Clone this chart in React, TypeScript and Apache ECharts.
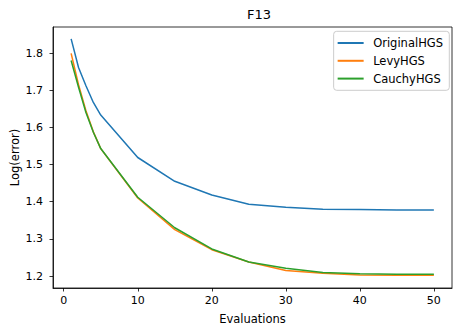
import React, { useEffect, useRef } from "react";
import * as echarts from "echarts";

const evaluations = [1, 2, 3, 4, 5, 10, 15, 20, 25, 30, 35, 40, 45, 50];
const originalHGS = [1.838, 1.761, 1.712, 1.667, 1.633, 1.519, 1.455, 1.418, 1.393, 1.385, 1.38, 1.379, 1.378, 1.378];
const levyHGS = [1.799, 1.715, 1.645, 1.588, 1.543, 1.41, 1.325, 1.271, 1.238, 1.215, 1.208, 1.203, 1.202, 1.202];
const cauchyHGS = [1.78, 1.708, 1.64, 1.587, 1.543, 1.412, 1.33, 1.273, 1.238, 1.221, 1.21, 1.206, 1.205, 1.205];
const xTicks = [0, 10, 20, 30, 40, 50];
const yTicks = [1.2, 1.3, 1.4, 1.5, 1.6, 1.7, 1.8];

const FONT = "DejaVu Sans";

export default function App() {
  const ref = useRef<HTMLDivElement>(null);
  useEffect(() => {
    if (!ref.current) return;
    const chart = echarts.init(ref.current, null, { renderer: "svg" });
    const mk = (name: string, vals: number[], color: string) => ({
      name,
      type: "line",
      data: evaluations.map((x, i) => [x, vals[i]]),
      showSymbol: false,
      symbol: "none",
      lineStyle: { color, width: 1.5 },
      itemStyle: { color },
    });
    chart.setOption({
      animation: false,
      backgroundColor: "#fff",
      title: {
        text: "F13",
        left: 254,
        top: 3,
        textAlign: "center",
        textStyle: { fontFamily: FONT, fontSize: 13, fontWeight: "normal", color: "#000" },
      },
      grid: {
        left: 53,
        right: 2,
        top: 27,
        bottom: 41,
        containLabel: false,
        outerBoundsMode: "none",
        show: true,
        borderColor: "#000",
        borderWidth: 0.8,
        backgroundColor: "transparent",
      },
      legend: {
        orient: "vertical",
        right: 4.7,
        top: 31.3,
        icon: "rect",
        itemWidth: 26,
        itemHeight: 2,
        itemGap: 4.8,
        padding: [5.2, 6.3, 5.2, 4],
        borderColor: "#ccc",
        borderWidth: 1,
        borderRadius: 3,
        textStyle: {
          fontFamily: FONT,
          fontSize: 11.5,
          color: "#000",
          lineHeight: 13,
          padding: [0, 0, 0, 4.5],
        },
        data: ["OriginalHGS", "LevyHGS", "CauchyHGS"],
      },
      xAxis: {
        type: "value",
        min: -1.45,
        max: 52.45,
        name: "Evaluations",
        nameLocation: "middle",
        nameGap: 24.5,
        nameMoveOverlap: false,
        nameTextStyle: { fontFamily: FONT, fontSize: 11.5, color: "#000" },
        axisLine: { onZero: false, lineStyle: { color: "#000", width: 0.8 } },
        axisTick: { show: true, length: 3.5, customValues: xTicks, lineStyle: { color: "#000", width: 0.8 } },
        axisLabel: {
          customValues: xTicks,
          fontFamily: FONT,
          fontSize: 11,
          color: "#000",
          margin: 7,
          formatter: (v: number) => String(Math.round(v)),
        },
        splitLine: { show: false },
      },
      yAxis: {
        type: "value",
        min: 1.168,
        max: 1.87,
        name: "Log(error)",
        nameLocation: "middle",
        nameGap: 32.5,
        nameMoveOverlap: false,
        nameTextStyle: { fontFamily: FONT, fontSize: 11.5, color: "#000" },
        axisLine: { show: true, onZero: false, lineStyle: { color: "#000", width: 0.8 } },
        axisTick: { show: true, length: 3.5, customValues: yTicks, lineStyle: { color: "#000", width: 0.8 } },
        axisLabel: {
          customValues: yTicks,
          fontFamily: FONT,
          fontSize: 11,
          color: "#000",
          margin: 10,
          formatter: (v: number) => v.toFixed(1),
        },
        splitLine: { show: false },
      },
      series: [
        mk("OriginalHGS", originalHGS, "#1f77b4"),
        mk("LevyHGS", levyHGS, "#ff7f0e"),
        mk("CauchyHGS", cauchyHGS, "#2ca02c"),
      ],
    });
    return () => chart.dispose();
  }, []);
  return (
    <div
      ref={ref}
      style={{ position: "fixed", left: 0, top: 0, width: 454, height: 329, background: "#fff" }}
    />
  );
}
